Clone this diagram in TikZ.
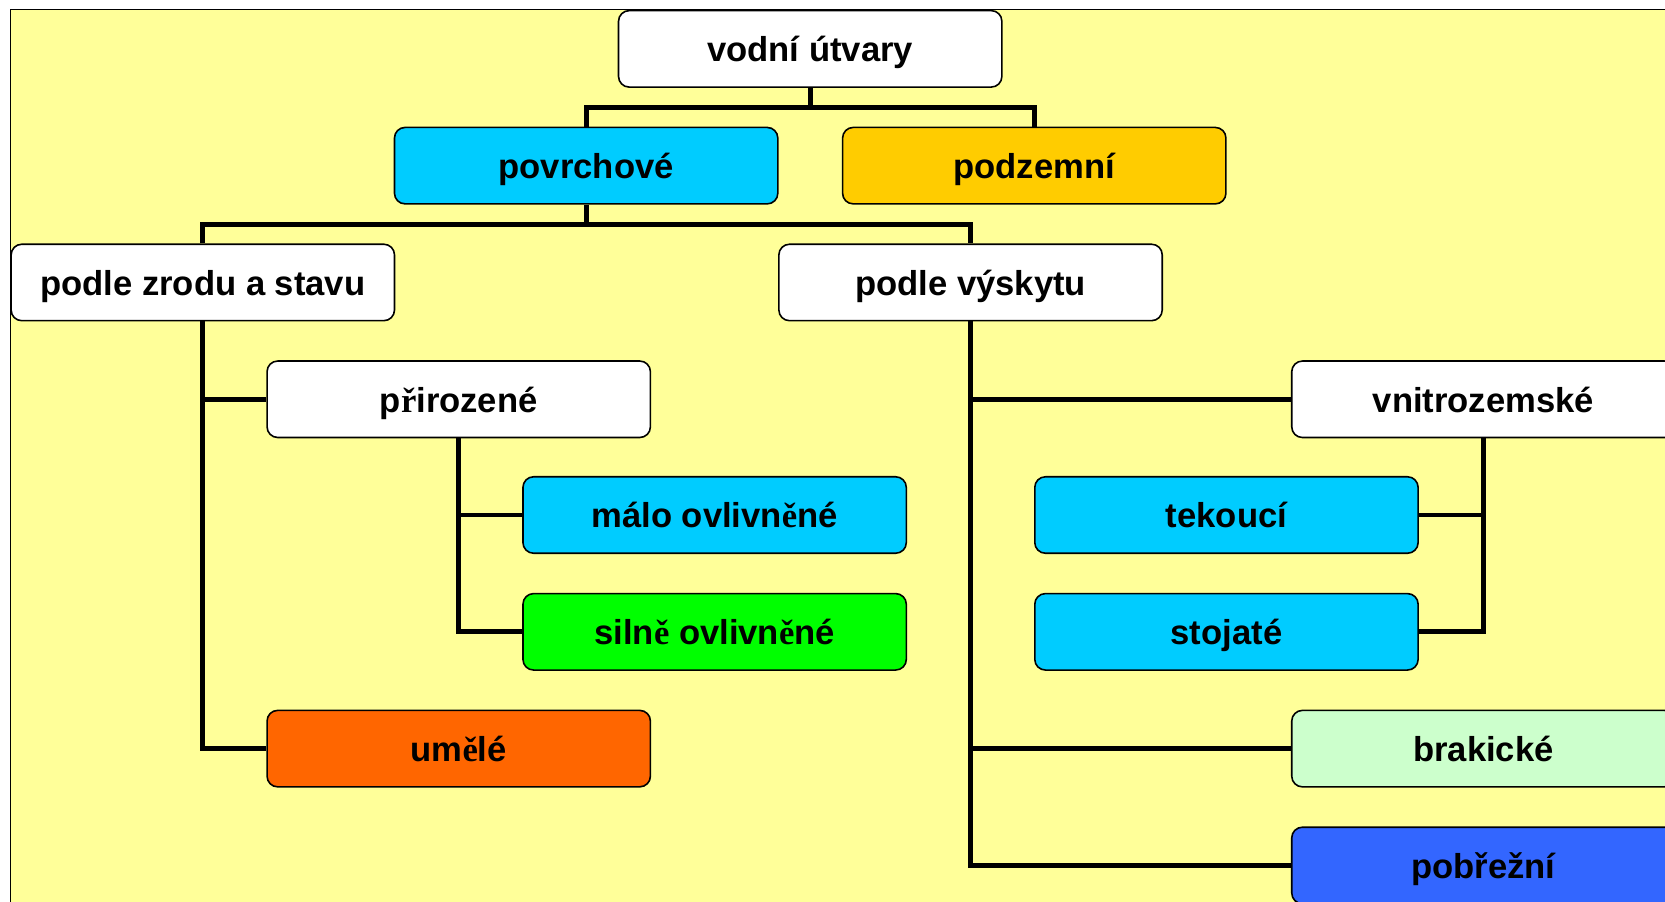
\documentclass[tikz,border=0pt]{standalone}
\usepackage{fontspec}
\setmainfont{Liberation Sans}
\newfontfamily\tmsfont{Liberation Serif}
\newcommand{\sE}{{\tmsfont ě}}
\newcommand{\sR}{{\tmsfont ř}}
\definecolor{bgyellow}{HTML}{FFFF99}
\definecolor{cyanbox}{HTML}{00CCFF}
\definecolor{goldbox}{HTML}{FFCC00}
\definecolor{greenbox}{HTML}{00FF00}
\definecolor{orangebox}{HTML}{FF6600}
\definecolor{palegreen}{HTML}{CCFFCC}
\definecolor{bluebox}{HTML}{3366FF}
\begin{document}
\begin{tikzpicture}[x=1pt,y=-1pt,
  box/.style={draw=black, line width=1.5pt, rounded corners=10pt,
    minimum width=361pt, minimum height=72pt, inner sep=0pt,
    text height=24pt, text depth=0pt,
    font=\fontsize{32.6}{39}\selectfont\bfseries, anchor=center},
  conn/.style={line width=4.6pt, line join=miter}]
\useasboundingbox (0,0) rectangle (1568,849);
\clip (0,0) rectangle (1568,849);
\draw[fill=bgyellow, line width=1.5pt] (10,9) rectangle (1620,900);

\node[box, fill=white] (vod) at (763,46) {vodní útvary};
\node[box, fill=cyanbox] (pov) at (552,156) {povrchové};
\node[box, fill=goldbox] (pod) at (974,156) {podzemní};
\node[box, fill=white] (zro) at (191,266) {podle zrodu a stavu};
\node[box, fill=white] (vys) at (914,266) {podle výskytu};
\node[box, fill=white] (pri) at (432,376) {p\sR irozené};
\node[box, fill=orangebox] (ume) at (432,705) {um\sE lé};
\node[box, fill=cyanbox] (mal) at (673,485) {málo ovlivn\sE né};
\node[box, fill=greenbox] (sil) at (673,595) {siln\sE{} ovlivn\sE né};
\node[box, fill=white] (vni) at (1397,376) {vnitrozemské};
\node[box, fill=cyanbox] (tek) at (1155,485) {tekoucí};
\node[box, fill=cyanbox] (sto) at (1155,595) {stojaté};
\node[box, fill=palegreen] (bra) at (1397,705) {brakické};
\node[box, fill=bluebox] (pob) at (1397,815) {pobřežní};

\coordinate (j1) at (763,101);
\coordinate (j2) at (552,211);
\draw[conn] (vod.south) -- (j1);
\draw[conn] (pov.north) |- (j1) -| (pod.north);
\draw[conn] (pov.south) -- (j2);
\draw[conn] (zro.north) |- (j2) -| (vys.north);
\draw[conn] (zro.south) |- (ume.west);
\draw[conn] (zro.south |- pri.west) -- (pri.west);
\draw[conn] (pri.south) |- (sil.west);
\draw[conn] (pri.south |- mal.west) -- (mal.west);
\draw[conn] (vys.south) |- (pob.west);
\draw[conn] (vys.south |- vni.west) -- (vni.west);
\draw[conn] (vys.south |- bra.west) -- (bra.west);
\draw[conn] (vni.south) |- (sto.east);
\draw[conn] (vni.south |- tek.east) -- (tek.east);
\end{tikzpicture}
\end{document}
